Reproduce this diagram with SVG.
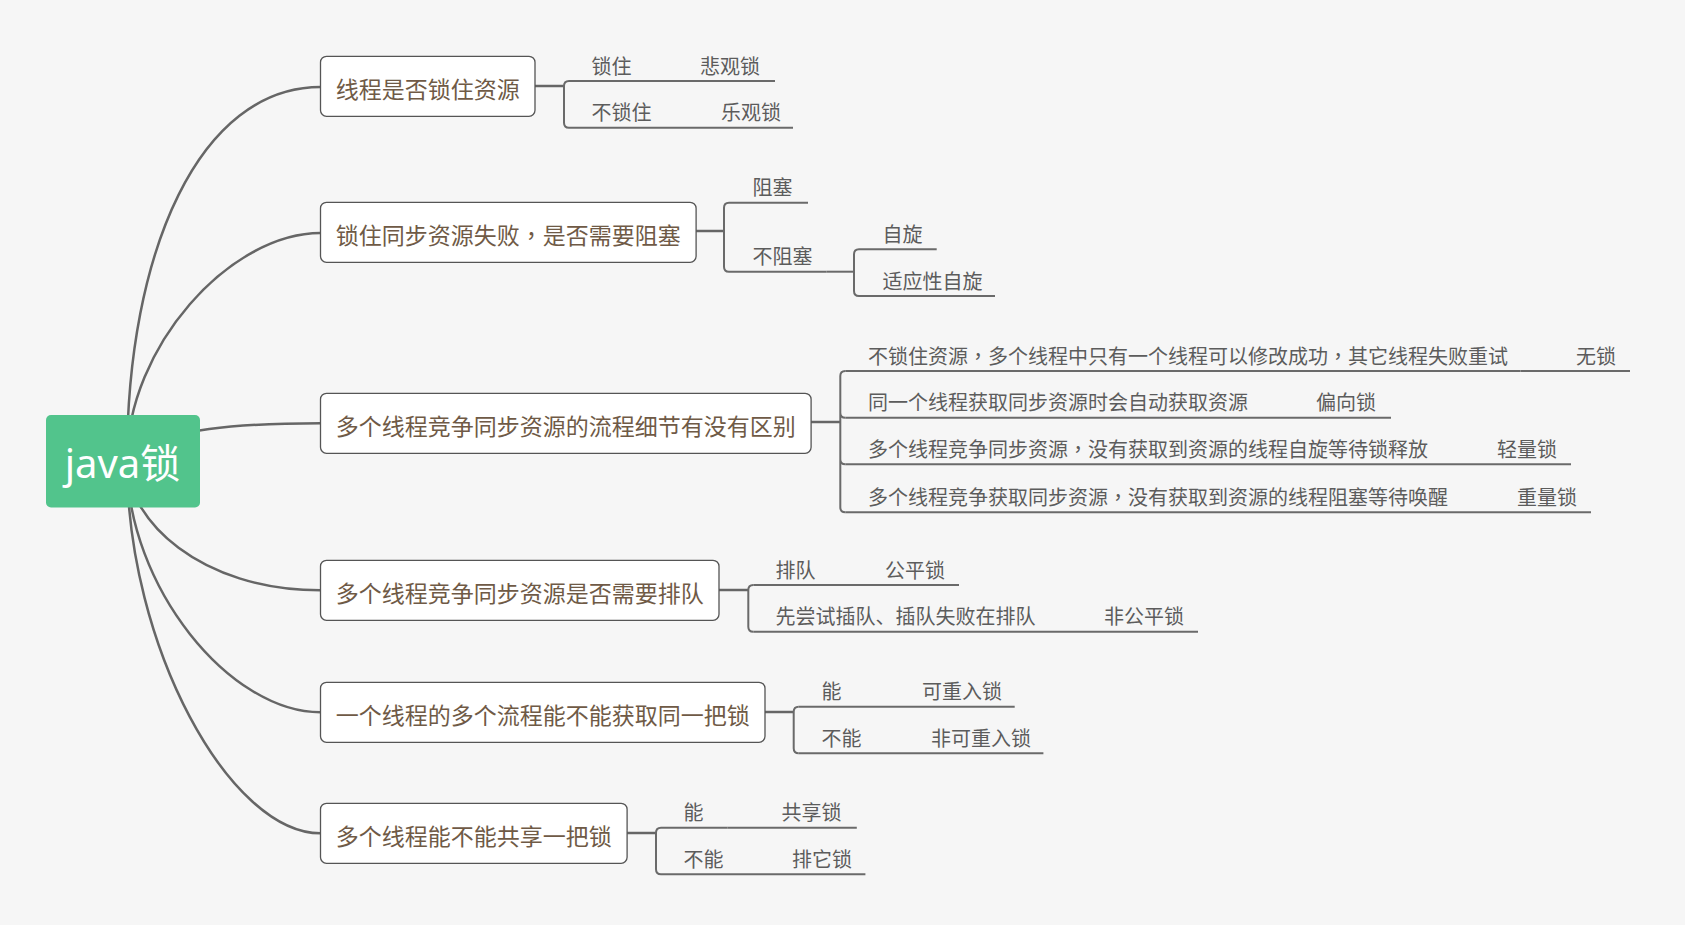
<svg xmlns="http://www.w3.org/2000/svg" width="1685" height="925" viewBox="0 0 1685 925">
<style>
.bg{fill:#f6f6f6}
.curve{fill:none;stroke:#666;stroke-width:2.5;stroke-linecap:round}
.conn{fill:none;stroke:#666;stroke-width:2.5}
.br{fill:none;stroke:#6a6a6a;stroke-width:2}
.ul{fill:none;stroke:#6a6a6a;stroke-width:2}
.box{fill:#fff;stroke:#555;stroke-width:1.3}
.root{fill:#52c48c}
.rt{font-family:"Noto Sans","Noto Sans CJK SC",sans-serif;font-size:40px;fill:#fff}
.mt{font-family:"Noto Sans CJK SC",sans-serif;font-size:23px;fill:#6f5a46}
.st{font-family:"Noto Sans CJK SC",sans-serif;font-size:20px;fill:#5c5c5c}
.cm{font-family:"Noto Sans CJK TC",sans-serif}
</style>
<rect class="bg" x="0" y="0" width="1685" height="925"/>
<g id="connectors">
<path class="curve" d="M127,461 C127,250 200,87 320.5,87"/>
<path class="curve" d="M127,461 C127,347 230,233 320.5,233"/>
<path class="curve" d="M123,455 C170,428 240,423.3 320.5,423.3"/>
<path class="curve" d="M127,461 C127,520 200,590.3 320.5,590.3"/>
<path class="curve" d="M127,461 C127,587 230,712.3 320.5,712.3"/>
<path class="curve" d="M127,461 C127,647 230,833.3 320.5,833.3"/>
<path class="conn" d="M535,86 H564"/>
<path class="br" d="M569,81 Q564,81 564,86 V122.7 Q564,127.7 569,127.7"/>
<path class="conn" d="M696,231 H724"/>
<path class="br" d="M729,202.7 Q724,202.7 724,207.7 V266.7 Q724,271.7 729,271.7"/>
<path class="br" d="M826.7,271.7 H854"/>
<path class="br" d="M859,249.3 Q854,249.3 854,254.3 V291 Q854,296 859,296"/>
<path class="conn" d="M811,422 H840.3"/>
<path class="br" d="M845.3,371 Q840.3,371 840.3,376 V507.3 Q840.3,512.3 845.3,512.3 M840.3,412.7 Q840.3,417.7 845.3,417.7 M840.3,459.3 Q840.3,464.3 845.3,464.3"/>
<path class="conn" d="M719,590 H748.3"/>
<path class="br" d="M753.3,585 Q748.3,585 748.3,590 V626.7 Q748.3,631.7 753.3,631.7"/>
<path class="conn" d="M765,712 H793.7"/>
<path class="br" d="M798.7,706.7 Q793.7,706.7 793.7,711.7 V748.3 Q793.7,753.3 798.7,753.3"/>
<path class="conn" d="M627,833 H656"/>
<path class="br" d="M661,827.7 Q656,827.7 656,832.7 V869.3 Q656,874.3 661,874.3"/>
</g>
<g id="root">
<rect class="root" x="46" y="415" width="154" height="92.5" rx="5"/>
<text class="rt" x="122.5" y="478" text-anchor="middle">java锁</text>
</g>
<g id="topic1">
<rect class="box" x="320.5" y="56.3" width="214.5" height="60" rx="6"/>
<text class="mt" x="335.8" y="97.8">线程是否锁住资源</text>
</g>
<g id="t1a">
<path class="ul" d="M569,81 H646"/>
<text class="st" x="591.5" y="73.5">锁住</text>
</g>
<g id="t1a1">
<path class="ul" d="M646,81 H775"/>
<text class="st" x="700" y="73.5">悲观锁</text>
</g>
<g id="t1b">
<path class="ul" d="M569,127.7 H665"/>
<text class="st" x="591.5" y="120.2">不锁住</text>
</g>
<g id="t1b1">
<path class="ul" d="M665,127.7 H793"/>
<text class="st" x="721" y="120.2">乐观锁</text>
</g>
<g id="topic2">
<rect class="box" x="320.5" y="202.3" width="375.6" height="60" rx="6"/>
<text class="mt" x="335.8" y="243.8">锁住同步资源失败<tspan class="cm">，</tspan>是否需要阻塞</text>
</g>
<g id="t2a">
<path class="ul" d="M729,202.7 H808"/>
<text class="st" x="752.5" y="195.2">阻塞</text>
</g>
<g id="t2b">
<path class="ul" d="M729,271.7 H826.7"/>
<text class="st" x="752.5" y="264.2">不阻塞</text>
</g>
<g id="t2b1">
<path class="ul" d="M859,249.3 H936.7"/>
<text class="st" x="882.5" y="241.8">自旋</text>
</g>
<g id="t2b2">
<path class="ul" d="M859,296 H995"/>
<text class="st" x="882.5" y="288.5">适应性自旋</text>
</g>
<g id="topic3">
<rect class="box" x="320.5" y="393.3" width="490.6" height="60" rx="6"/>
<text class="mt" x="335.8" y="434.8">多个线程竞争同步资源的流程细节有没有区别</text>
</g>
<g id="t3a">
<path class="ul" d="M845.3,371 H1520.5"/>
<text class="st" x="868" y="363.5">不锁住资源<tspan class="cm">，</tspan>多个线程中只有一个线程可以修改成功<tspan class="cm">，</tspan>其它线程失败重试</text>
</g>
<g id="t3a1">
<path class="ul" d="M1520.5,371 H1630"/>
<text class="st" x="1576" y="363.5">无锁</text>
</g>
<g id="t3b">
<path class="ul" d="M845.3,417.7 H1261"/>
<text class="st" x="868" y="410.2">同一个线程获取同步资源时会自动获取资源</text>
</g>
<g id="t3b1">
<path class="ul" d="M1261,417.7 H1391"/>
<text class="st" x="1316" y="410.2">偏向锁</text>
</g>
<g id="t3c">
<path class="ul" d="M845.3,464.3 H1440"/>
<text class="st" x="868" y="456.8">多个线程竞争同步资源<tspan class="cm">，</tspan>没有获取到资源的线程自旋等待锁释放</text>
</g>
<g id="t3c1">
<path class="ul" d="M1440,464.3 H1571"/>
<text class="st" x="1497" y="456.8">轻量锁</text>
</g>
<g id="t3d">
<path class="ul" d="M845.3,512.3 H1462"/>
<text class="st" x="868" y="504.8">多个线程竞争获取同步资源<tspan class="cm">，</tspan>没有获取到资源的线程阻塞等待唤醒</text>
</g>
<g id="t3d1">
<path class="ul" d="M1462,512.3 H1591"/>
<text class="st" x="1517" y="504.8">重量锁</text>
</g>
<g id="topic4">
<rect class="box" x="320.5" y="560.3" width="398.5" height="60" rx="6"/>
<text class="mt" x="335.8" y="601.8">多个线程竞争同步资源是否需要排队</text>
</g>
<g id="t4a">
<path class="ul" d="M753.3,585 H829"/>
<text class="st" x="775.5" y="577.5">排队</text>
</g>
<g id="t4a1">
<path class="ul" d="M829,585 H959"/>
<text class="st" x="885" y="577.5">公平锁</text>
</g>
<g id="t4b">
<path class="ul" d="M753.3,631.7 H1049"/>
<text class="st" x="775.5" y="624.2">先尝试插队、插队失败在排队</text>
</g>
<g id="t4b1">
<path class="ul" d="M1049,631.7 H1198"/>
<text class="st" x="1104" y="624.2">非公平锁</text>
</g>
<g id="topic5">
<rect class="box" x="320.5" y="682.3" width="444.5" height="60" rx="6"/>
<text class="mt" x="335.8" y="723.8">一个线程的多个流程能不能获取同一把锁</text>
</g>
<g id="t5a">
<path class="ul" d="M798.7,706.7 H865"/>
<text class="st" x="821.5" y="699.2">能</text>
</g>
<g id="t5a1">
<path class="ul" d="M865,706.7 H1014.7"/>
<text class="st" x="922" y="699.2">可重入锁</text>
</g>
<g id="t5b">
<path class="ul" d="M798.7,753.3 H877"/>
<text class="st" x="821.5" y="745.8">不能</text>
</g>
<g id="t5b1">
<path class="ul" d="M877,753.3 H1043.4"/>
<text class="st" x="931" y="745.8">非可重入锁</text>
</g>
<g id="topic6">
<rect class="box" x="320.5" y="803.3" width="306.6" height="60" rx="6"/>
<text class="mt" x="335.8" y="844.8">多个线程能不能共享一把锁</text>
</g>
<g id="t6a">
<path class="ul" d="M661,827.7 H727.7"/>
<text class="st" x="683.5" y="820.2">能</text>
</g>
<g id="t6a1">
<path class="ul" d="M727.7,827.7 H856.8"/>
<text class="st" x="781.5" y="820.2">共享锁</text>
</g>
<g id="t6b">
<path class="ul" d="M661,874.3 H739"/>
<text class="st" x="683.5" y="866.8">不能</text>
</g>
<g id="t6b1">
<path class="ul" d="M739,874.3 H865.4"/>
<text class="st" x="792" y="866.8">排它锁</text>
</g>
</svg>
